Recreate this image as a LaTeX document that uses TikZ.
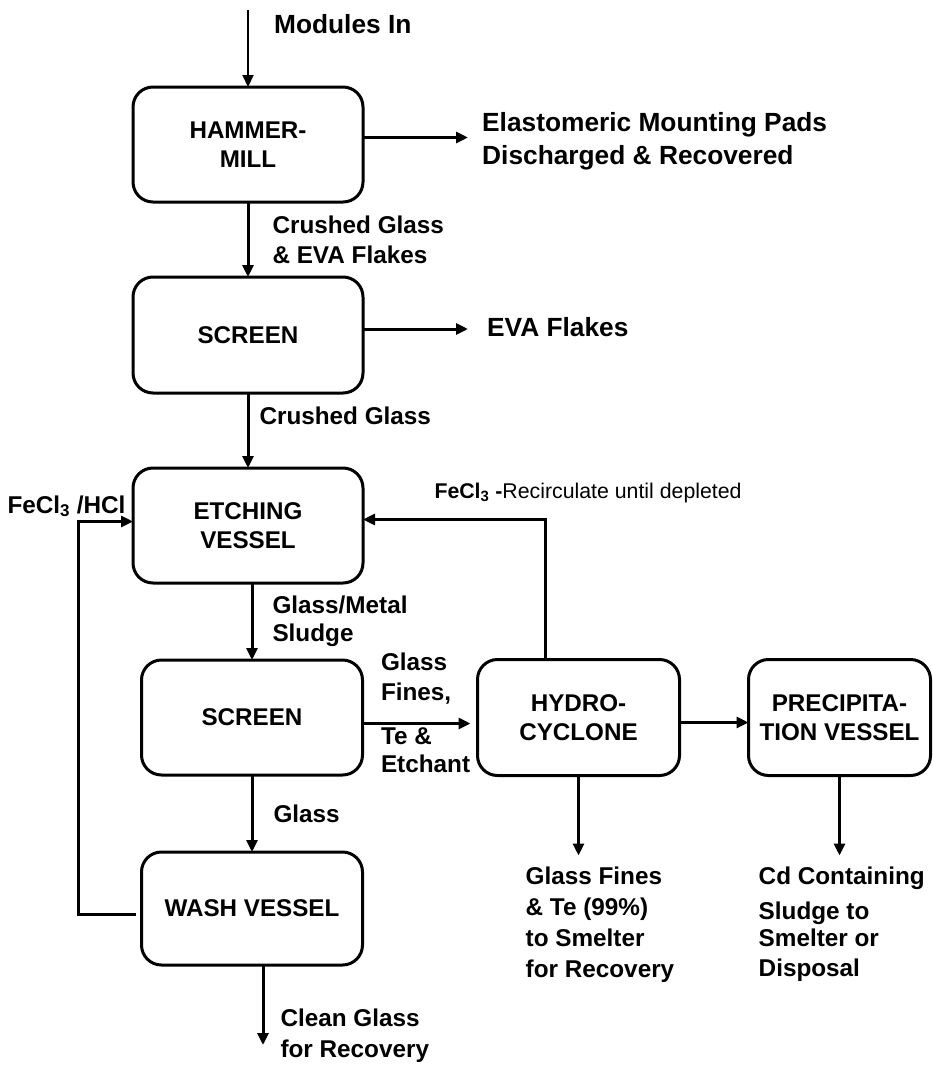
\documentclass[tikz,border=0pt]{standalone}
\usepackage{fontspec}
\setmainfont{Liberation Sans}
\usepackage{tikz}
\usetikzlibrary{arrows.meta, positioning}
\newcommand{\tagfont}{\bfseries\fontsize{24.3}{30}\selectfont}
\newcommand{\bigtagfont}{\bfseries\fontsize{26.3}{33}\selectfont}
\newcommand{\smalltagfont}{\fontsize{21.3}{26}\selectfont}
\newcommand{\unitfont}{\bfseries\fontsize{24.2}{29}\selectfont}

\begin{document}
\begin{tikzpicture}[
	x=1pt, y=-1pt,
	node distance = 75pt,
	unit/.style = {draw, rectangle, rounded corners=20pt, line width=3pt, align=center, minimum width=230pt, minimum height=115pt, inner sep=4pt, outer sep=0pt, font=\unitfont},
	flow/.style = {-{Triangle[length=12pt, width=11pt]}, line width=3pt},
	lbl/.style = {inner sep=0pt, align=left, font=\tagfont},
	biglbl/.style = {lbl, font=\bigtagfont},
]
\tikzstyle{every node}=[font=\tagfont]
\useasboundingbox (0,0) rectangle (932,1065);

% Process units
\node[unit] (hammer) at (248,144.5) {HAMMER-\\MILL};
\node[unit, below=75pt of hammer, minimum height=116pt] (screenA) {SCREEN};
\node[unit, below=75pt of screenA] (etch) {ETCHING\\VESSEL};
\node[unit, below=77pt of etch, xshift=4pt, minimum width=221pt] (screenB) {SCREEN};
\node[unit, below=77pt of screenB, minimum width=221pt, minimum height=113pt] (wash) {WASH VESSEL};
\node[unit, right=115pt of screenB, minimum width=202pt, minimum height=116pt] (hydro) {HYDRO-\\CYCLONE};
\node[unit, right=69pt of hydro, minimum width=182pt, minimum height=116pt] (precip) {PRECIPITA-\\TION VESSEL};

% Outputs and free ends
\coordinate[above=77pt of hammer.north] (feed);
\node[biglbl, right=119pt of hammer.east, yshift=3pt] (pads) {Elastomeric Mounting Pads\\Discharged \& Recovered};
\coordinate[right=105pt of hammer.east, yshift=7pt] (padsin);
\node[biglbl, right=124pt of screenA.east, yshift=7.5pt] (eva) {EVA Flakes};
\coordinate[right=105pt of screenA.east, yshift=6pt] (evain);
\coordinate[right=108pt of screenB.east, yshift=-6pt] (hydroin);
\coordinate[below=80pt of wash.south, xshift=11pt] (cleanout);
\coordinate[below=80pt of hydro.south] (gfout);
\coordinate[below=80pt of precip.south] (cdout);
\node[lbl, below right=11pt and -53pt of gfout] (gfines) {Glass Fines\\[1pt]\& Te (99\%)\\[1pt]to Smelter\\[1pt]for Recovery};
\node[lbl, below right=11pt and -81pt of cdout] (cdsludge) {Cd Containing\\[5pt]Sludge to\\[-3pt]Smelter or\\Disposal};

% Main flow
\path[flow, line width=2.2pt] (feed) edge node[biglbl, pos=0.18, right=25pt] {Modules In} (hammer);
\draw[flow] ([yshift=7pt]hammer.east) -- (padsin);
\draw[flow] (hammer) -- node[lbl, right=23pt] {Crushed Glass\\\& EVA Flakes} (screenA);
\draw[flow] ([yshift=6pt]screenA.east) -- (evain);
\draw[flow] (screenA) -- node[lbl, pos=0.31, right=10pt] {Crushed Glass} (etch);
\draw[flow] (etch.south -| screenB.north) -- node[lbl, right=19pt] {Glass/Metal\\[-2pt]Sludge} (screenB);
\draw[flow] (screenB) -- node[lbl, right=20pt] {Glass} (wash);
\draw[flow] ([xshift=11pt]wash.south) -- node[lbl, pos=0.89, right=16pt] {Clean Glass\\[1pt]for Recovery} (cleanout);
\draw[flow] ([yshift=-6pt]screenB.east) -- (hydroin)
	node[lbl, pos=0, anchor=south west, xshift=17pt, yshift=18pt] {Glass\\Fines,}
	node[lbl, pos=0, anchor=north west, xshift=17pt, yshift=-3pt] {Te \&\\[-2pt]Etchant};
\draw[flow] ([yshift=-5pt]hydro.east) -- ([yshift=-5pt]precip.west);
\draw[flow] (hydro) -- (gfout);
\draw[flow] (precip) -- (cdout);

% Recycle loops
\draw[flow, shorten <=6pt] ([yshift=-6pt]wash.west) -| ([xshift=-55pt, yshift=4pt]etch.west) -- ([yshift=4pt]etch.west)
	node[lbl, anchor=south east, xshift=-6pt, yshift=3pt] {FeCl\textsubscript{3} /HCl};
\draw[flow] ([xshift=-33pt]hydro.north) |- ([yshift=6pt]etch.east)
	node[lbl, font=\smalltagfont, anchor=south west, xshift=70pt, yshift=15pt] {{\bfseries FeCl\textsubscript{3} -}Recirculate until depleted};
\end{tikzpicture}
\end{document}
